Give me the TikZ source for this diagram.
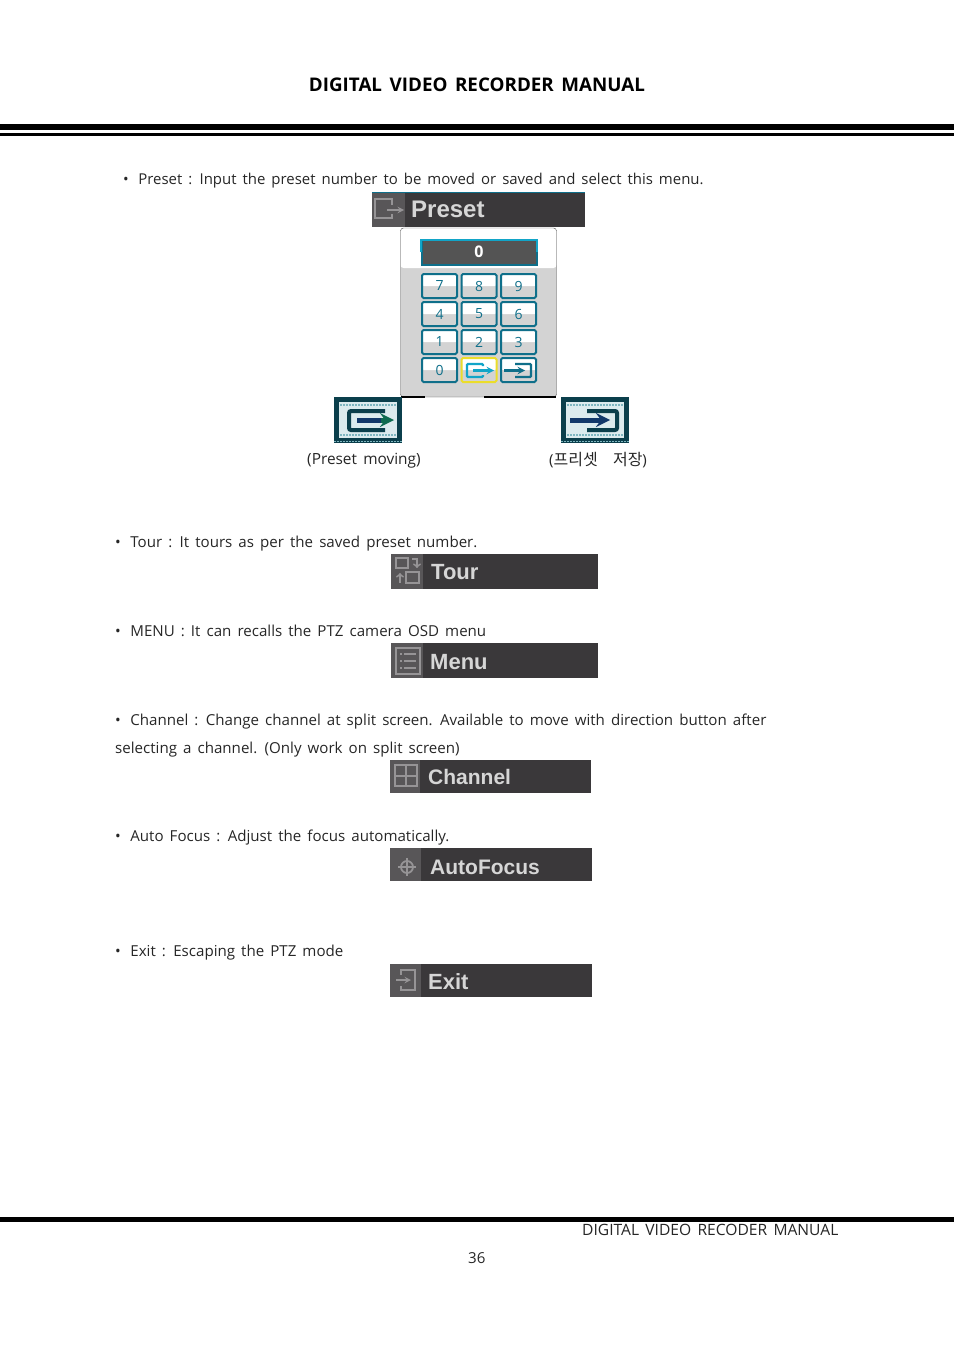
\documentclass[tikz,border=0pt]{standalone}
\usepackage{fontspec}
\setmainfont[WordSpace=1.55]{Open Sans}
\newfontfamily\barfont{Liberation Sans}
\newfontfamily\krfont{Noto Sans CJK KR}
\definecolor{bardark}{HTML}{3A383A}
\definecolor{bartile}{HTML}{585658}
\definecolor{barline}{HTML}{969496}
\definecolor{barword}{HTML}{D6D6D6}
\definecolor{keyteal}{HTML}{0F6F8A}
\definecolor{keygrey}{HTML}{D3D3D3}
\definecolor{dispcyan}{HTML}{12A5C8}
\definecolor{keyyellow}{HTML}{EBDD2A}
\definecolor{icondark}{HTML}{0B3F4C}
\definecolor{iconpale}{HTML}{DCEBEE}
\definecolor{iconmid}{HTML}{7FB6C0}
\definecolor{iconnavy}{HTML}{12386A}
\definecolor{icongreen}{HTML}{0E6B50}
\usepackage{tikz}

\begin{document}
\begin{tikzpicture}[x=1pt,y=-1pt,
  body/.style={anchor=base west,inner sep=0pt,font=\fontsize{15.1}{16}\selectfont,text=black!85},
  word/.style={anchor=base west,inner sep=0pt,text=barword,font=\barfont\bfseries\fontsize{22}{22}\selectfont},
  tileline/.style={draw=barline,line width=1.8pt},
  keybox/.style={draw=keyteal,line width=2pt,rounded corners=1.5pt,fill=keygrey,minimum width=35pt,minimum height=24pt,inner sep=0pt,text=keyteal,
    font=\fontsize{14}{14}\selectfont,
    path picture={\fill[white] (path picture bounding box.north west) rectangle (path picture bounding box.east);}},
  iconedge/.style={draw=iconmid,line width=1.5pt,dash pattern=on 1.5pt off 1.5pt}]
\useasboundingbox (0,0) rectangle (954,1351);

% header and footer
\node[anchor=base,inner sep=0pt,font=\bfseries\fontsize{18.8}{20}\selectfont] (title) at (477,92) {DIGITAL VIDEO RECORDER MANUAL};
\fill[black] (0,124) rectangle (954,130);
\fill[black] (0,133) rectangle (954,136);
\fill[black] (0,1217) rectangle (954,1222);
\node[body,font=\fontsize{15.6}{16}\selectfont] (footer) at (582,1235) {DIGITAL VIDEO RECODER MANUAL};
\node[body] (pageno) at (468,1263) {36};

% texts
\node[body,font=\fontsize{14.95}{16}\selectfont] (preset) at (123,185) {•\hspace{9.5pt}Preset : Input the preset number to be moved or saved and select this menu.};
\node[body,font=\fontsize{15.4}{16}\selectfont] (moving) at (307,464) {(Preset moving)};
\node[body] (saving) at (549,465) {({\krfont\fontsize{16}{16}\selectfont 프리셋\hspace{.95em}저장})};
\node[body] (tour) at (115,547) {•\hspace{9.5pt}Tour : It tours as per the saved preset number.};
\node[body] (menu) at (115,636) {•\hspace{9.5pt}MENU : It can recalls the PTZ camera OSD menu};
\node[body] (channela) at (115,725) {•\hspace{9.5pt}Channel : Change channel at split screen. Available to move with direction button after};
\node[body] (channelb) at (115,753) {selecting a channel. (Only work on split screen)};
\node[body] (focus) at (115,841) {•\hspace{9.5pt}Auto Focus : Adjust the focus automatically.};
\node[body] (exit) at (115,956) {•\hspace{9.5pt}Exit : Escaping the PTZ mode};

% menu bars
\foreach \xa/\ya/\xb/\yb/\xt in {372/192/585/227/405,391/554/598/589/423,391/643/598/678/423,390/760/591/793/420,390/848/592/881/421,390/964/592/997/421}{
  \fill[bardark] (\xa,\ya) rectangle (\xb,\yb);
  \fill[bartile] (\xa,\ya) rectangle (\xt,\yb);
}
\draw[keyteal,line width=1pt] (372,192.5) -- (585,192.5);
\node[word,font=\barfont\bfseries\fontsize{24}{24}\selectfont] (barpreset) at (411,218) {Preset};
\node[word] (bartour) at (431,579) {Tour};
\node[word] (barmenu) at (430,669) {Menu};
\node[word,font=\barfont\bfseries\fontsize{21}{21}\selectfont] (barchannel) at (428,784) {Channel};
\node[word,font=\barfont\bfseries\fontsize{21}{21}\selectfont] (barfocus) at (430,874) {AutoFocus};
\node[word] (barexit) at (428,989) {Exit};

% tile icons
\draw[tileline] (392,205) -- (392,199) -- (375,199) -- (375,218) -- (392,218) -- (392,214);
\draw[tileline,-stealth] (387,210) -- (404,210);
\draw[tileline] (396,558) rectangle (408,568);
\draw[tileline] (406,572) rectangle (419,583);
\draw[tileline,->] (412,559) -- (417,559) -- (417,568);
\draw[tileline,->] (400,583) -- (400,573);
\draw[tileline] (396,648) rectangle (420,674);
\foreach \y in {654,661,668}{\draw[tileline] (404,\y) -- (416,\y); \draw[tileline] (400,\y) -- (402,\y);}
\draw[tileline] (395,765) rectangle (417,786);
\draw[tileline] (406,765) -- (406,786);
\draw[tileline] (395,776) -- (417,776);
\draw[tileline] (407,867) circle (6);
\draw[tileline] (398,867) -- (416,867);
\draw[tileline] (407,858) -- (407,876);
\draw[tileline] (401,975) -- (401,970) -- (415,970) -- (415,990) -- (401,990) -- (401,986);
\draw[tileline,-stealth] (396,980) -- (411,980);

% keypad panel
\draw[black!60,dashed] (411,228) -- (476,228);
\fill[keygrey,rounded corners=3pt] (400.5,228) rectangle (556.5,397);
\fill[white,rounded corners=3pt] (400.5,228) -- (400.5,268) -- (556.5,268) -- (556.5,228) -- cycle;
\draw[black!70,rounded corners=3pt] (400.5,228) rectangle (556.5,397);
\draw[black,line width=1.2pt] (401,397) -- (425,397);
\draw[black,line width=1.2pt] (484,397) -- (556,397);
\node[draw=keyteal,fill=black!67,line width=2pt,minimum width=115pt,minimum height=25pt,inner sep=0pt,text=white,font=\bfseries\fontsize{16}{16}\selectfont] (display) at (479,252) {0};
\draw[dispcyan,line width=2pt] (421,252) -- (421,239.5) -- (537,239.5) -- (537,252);
\foreach \name/\xc/\yc in {7/439.5/286,8/479/286,9/518.5/286,4/439.5/314,5/479/314,6/518.5/314,1/439.5/342,2/479/342,3/518.5/342,0/439.5/370}{
  \node[keybox] (key\name) at (\xc,\yc) {\name};
}
\node[keybox,draw=keyyellow] (keymove) at (479,370) {};
\node[keybox] (keysave) at (518.5,370) {};
% small arrows on the keys
\draw[dispcyan,line width=2.2pt,rounded corners=1pt] (483,366) -- (483,364) -- (467,364) -- (467,377) -- (483,377) -- (483,375);
\draw[dispcyan,line width=2.2pt,-stealth] (473,370.5) -- (494,370.5);
\draw[keyteal,line width=2.2pt,rounded corners=1pt] (515,364) -- (531,364) -- (531,377) -- (515,377);
\draw[keyteal,line width=2.2pt,-stealth] (504,370.5) -- (525,370.5);

% large icons
\fill[iconpale] (334,397) rectangle (402,443);
\draw[icondark,line width=5pt] (336.5,399.5) rectangle (399.5,440.5);
\draw[iconedge] (334,441.5) -- (402,441.5);
\draw[iconedge] (340,405) -- (396,405);
\draw[iconedge] (340,435) -- (396,435);
\draw[icondark,line width=4pt,rounded corners=2pt] (385,411) -- (349,411) -- (349,430) -- (385,430);
\draw[iconnavy,line width=5pt] (357,420) -- (382,420);
\draw[icongreen,line width=5pt,-stealth] (381,420) -- (394,420);
\fill[iconpale] (561,397) rectangle (629,443);
\draw[icondark,line width=5pt] (563.5,399.5) rectangle (626.5,440.5);
\draw[iconedge] (561,441.5) -- (629,441.5);
\draw[iconedge] (567,405) -- (623,405);
\draw[iconedge] (567,435) -- (623,435);
\draw[icondark,line width=4pt,rounded corners=2pt] (587,411) -- (617,411) -- (617,430) -- (587,430);
\draw[iconnavy,line width=5pt,-stealth] (570,420) -- (610,420);
\end{tikzpicture}
\end{document}
